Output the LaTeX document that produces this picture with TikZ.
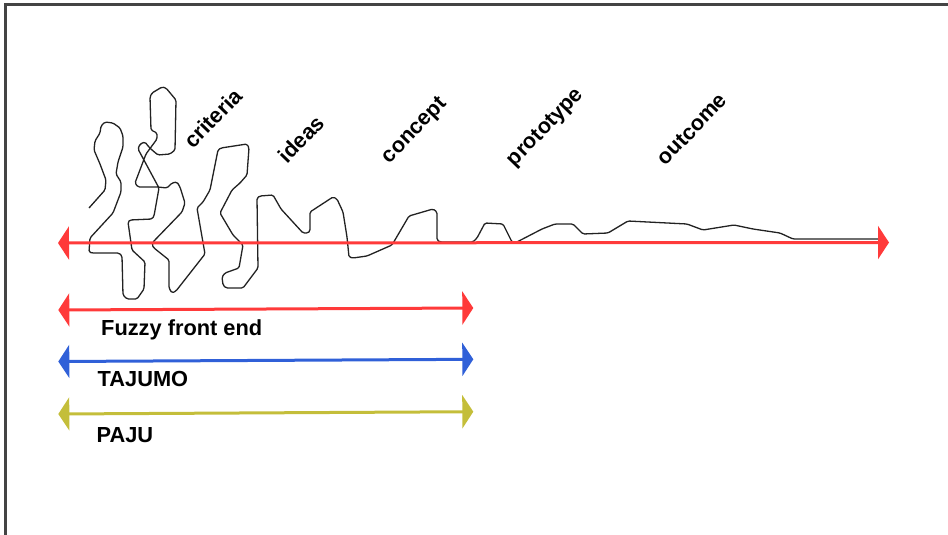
\documentclass[tikz,border=0pt]{standalone}
\usepackage{fontspec}
\setmainfont{Liberation Sans}
\usetikzlibrary{arrows.meta}

\definecolor{spanred}{RGB}{255,58,58}
\definecolor{spanblue}{RGB}{48,96,216}
\definecolor{spanolive}{RGB}{196,190,58}
\definecolor{framegray}{RGB}{68,68,68}
\definecolor{ink}{RGB}{34,34,34}

\begin{document}
\begin{tikzpicture}[x=1pt,y=-1pt,
  span/.style={line width=3pt,
    {Triangle[length=11pt,width=33pt]}-{Triangle[length=11pt,width=33pt]}},
  stage/.style={font=\bfseries\fontsize{21.6}{24}\selectfont, rotate=46, inner sep=0pt},
  tag/.style={font=\bfseries\fontsize{21.8}{25}\selectfont, anchor=base west, inner sep=0pt},
  trail/.style={draw=ink, line width=1.3pt, rounded corners=1.5pt, line join=round}]

\useasboundingbox (0,0) rectangle (948,535);

% frame: left and top edges only
\coordinate (frameBL) at (5.5,535);
\coordinate (frameTL) at (5.5,4.5);
\coordinate (frameTR) at (948,4.5);
\draw[framegray, line width=2.3pt] (frameBL) -- (frameTL) -- (frameTR);

% the winding development trail, from chaos to a straight line
\draw[trail]
  (89,208) -- (97,199) -- (105,190) -- (106,180) -- (100,164) -- (94,150)
  -- (95,141) -- (100,133) -- (101,126) -- (105,122) -- (113,123) -- (120,128)
  -- (123,136) -- (123,147) -- (118,162) -- (116,174) -- (121,182) -- (121,192)
  -- (113,213) -- (90,238) -- (89,252) -- (92,253) -- (119,253) -- (122,256)
  -- (123,295) -- (127,299) -- (137,299) -- (144,289) -- (145,262) -- (132,250)
  -- (128,222) -- (130,220) -- (152,219) -- (154,216) -- (159,188) -- (138,149)
  -- (140,144) -- (145,142) -- (148,146) -- (152,150) -- (158,155) -- (170,154)
  -- (175,150) -- (176,100) -- (166,88) -- (162,87) -- (152,93) -- (150,97)
  -- (151,130) -- (157,133) -- (157,139) -- (146,154) -- (135,183) -- (138,187)
  -- (158,187) -- (167,188) -- (172,183) -- (177,182) -- (180,187) -- (185,203)
  -- (182,212) -- (153,242) -- (152,245) -- (154,248) -- (169,260) -- (169,288)
  -- (172,293) -- (176,291) -- (205,254) -- (197,208) -- (203,202) -- (210,190)
  -- (218,150) -- (221,148) -- (247,144) -- (249,148) -- (247,175) -- (240,183)
  -- (232,190) -- (220,213) -- (233,235) -- (240,242) -- (243,245) -- (239,268)
  -- (225,273) -- (222,277) -- (223,285) -- (226,288) -- (243,288) -- (258,268)
  -- (257,198) -- (260,196) -- (273,195) -- (281,209) -- (303,233) -- (308,233)
  -- (310,231) -- (310,212) -- (333,197) -- (337,199) -- (343,212) -- (347,237)
  -- (349,257) -- (353,258) -- (367,256) -- (392,245) -- (409,216) -- (433,209)
  -- (437,212) -- (437,240) -- (440,242) -- (473,242) -- (477,238) -- (485,223)
  -- (503,224) -- (512,242) -- (515,243) -- (542,229) -- (555,224) -- (573,224)
  -- (583,234) -- (608,233) -- (628,221) -- (687,224) -- (703,230) -- (734,225)
  -- (753,229) -- (780,233) -- (793,239) -- (878,239);

% stage labels
\node[stage] (criteria)  at (213,118) {criteria};
\node[stage] (ideas)     at (301,139) {ideas};
\node[stage] (concept)   at (415,131) {concept};
\node[stage] (prototype) at (546,128) {prototype};
\node[stage] (outcome)   at (692,129) {outcome};

% timeline and spans
\coordinate (mainL) at (58,243);
\coordinate (mainR) at (889,242.5);
\draw[span, spanred] (mainL) -- (mainR);

\coordinate (ffeL) at (58.3,310);
\coordinate (ffeR) at (473.3,308);
\draw[span, spanred] (ffeL) -- (ffeR);
\node[tag] (ffe) at (101,335) {Fuzzy front end};

\coordinate (tajL) at (58.3,361.5);
\coordinate (tajR) at (473.3,359.3);
\draw[span, spanblue] (tajL) -- (tajR);
\node[tag] (tajumo) at (97.5,386.7) {TAJUMO};

\coordinate (pajL) at (58.3,414);
\coordinate (pajR) at (473.3,411.7);
\draw[span, spanolive] (pajL) -- (pajR);
\node[tag] (paju) at (96.5,442.7) {PAJU};

\end{tikzpicture}
\end{document}
